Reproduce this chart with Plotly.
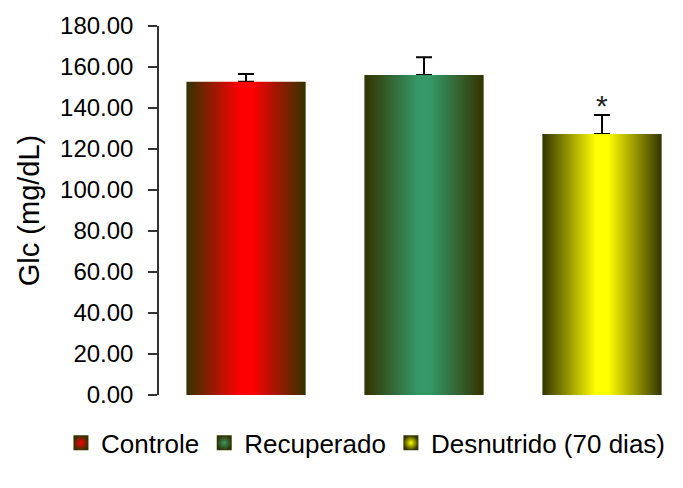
import plotly.graph_objects as go

groups = ["Controle", "Recuperado", "Desnutrido (70 dias)"]
means = [152.8, 156.1, 127.3]
errors = [3.8, 8.6, 9.3]
signif = ["", "", "*"]
center_colors = ["#ff0000", "#339966", "#ffff00"]
edge_color = "#333300"
y_ticks = [0, 20, 40, 60, 80, 100, 120, 140, 160, 180]

bar_width = 0.67
FONT = "Liberation Sans, Arial"
fig = go.Figure()
xs = list(range(len(groups)))

# error bars (drawn first so the bars hide the lower cap)
fig.add_trace(go.Scatter(
    x=xs, y=means, mode="markers", marker=dict(opacity=0, size=1),
    error_y=dict(type="data", symmetric=False, array=errors, arrayminus=[0] * len(errors),
                 color="black", thickness=2, width=8),
    showlegend=False, hoverinfo="skip",
))

for i, (g, m, c) in enumerate(zip(groups, means, center_colors)):
    x0, x1 = i - bar_width / 2, i + bar_width / 2
    fig.add_trace(go.Scatter(
        x=[x0, x1, x1, x0, x0], y=[0, 0, m, m, 0],
        mode="none", fill="toself", name=g, showlegend=False,
        fillgradient=dict(type="horizontal",
                          colorscale=[[0, edge_color], [0.45, c], [0.55, c], [1, edge_color]]),
        hoverinfo="skip",
    ))

# legend entries
for g, c in zip(groups, center_colors):
    fig.add_trace(go.Scatter(
        x=[None], y=[None], mode="markers", name=g,
        marker=dict(symbol="square", size=15, color=edge_color,
                    gradient=dict(type="radial", color=c),
                    line=dict(width=0)),
    ))

# significance marks
for i, (m, e, s) in enumerate(zip(means, errors, signif)):
    if s:
        fig.add_annotation(x=i, y=m + e, text=s, showarrow=False,
                           yanchor="middle", yshift=9,
                           font=dict(size=30, color="#222", family=FONT))

fig.update_layout(
    width=667, height=472,
    margin=dict(l=151, r=0, t=18, b=85),
    paper_bgcolor="white", plot_bgcolor="white",
    font=dict(family=FONT, color="black"),
    xaxis=dict(range=[-0.489, 2.410], showticklabels=False, showgrid=False,
               zeroline=False, showline=False, ticks=""),
    yaxis=dict(range=[0, 180], tickvals=y_ticks, tickformat=".2f",
               ticks="outside", ticklen=9, tickwidth=1.5, tickcolor="#333",
               ticklabelstandoff=10,
               showline=True, linecolor="#333", linewidth=1.5,
               showgrid=False, zeroline=False,
               tickfont=dict(size=24),
               title=dict(text="Glc (mg/dL)", font=dict(size=29), standoff=12)),
    legend=dict(orientation="h", x=-0.19, xanchor="left", y=-0.13, yanchor="middle",
                font=dict(size=26), itemwidth=30, tracegroupgap=0),
    showlegend=True,
)
fig.write_html("out.html")
